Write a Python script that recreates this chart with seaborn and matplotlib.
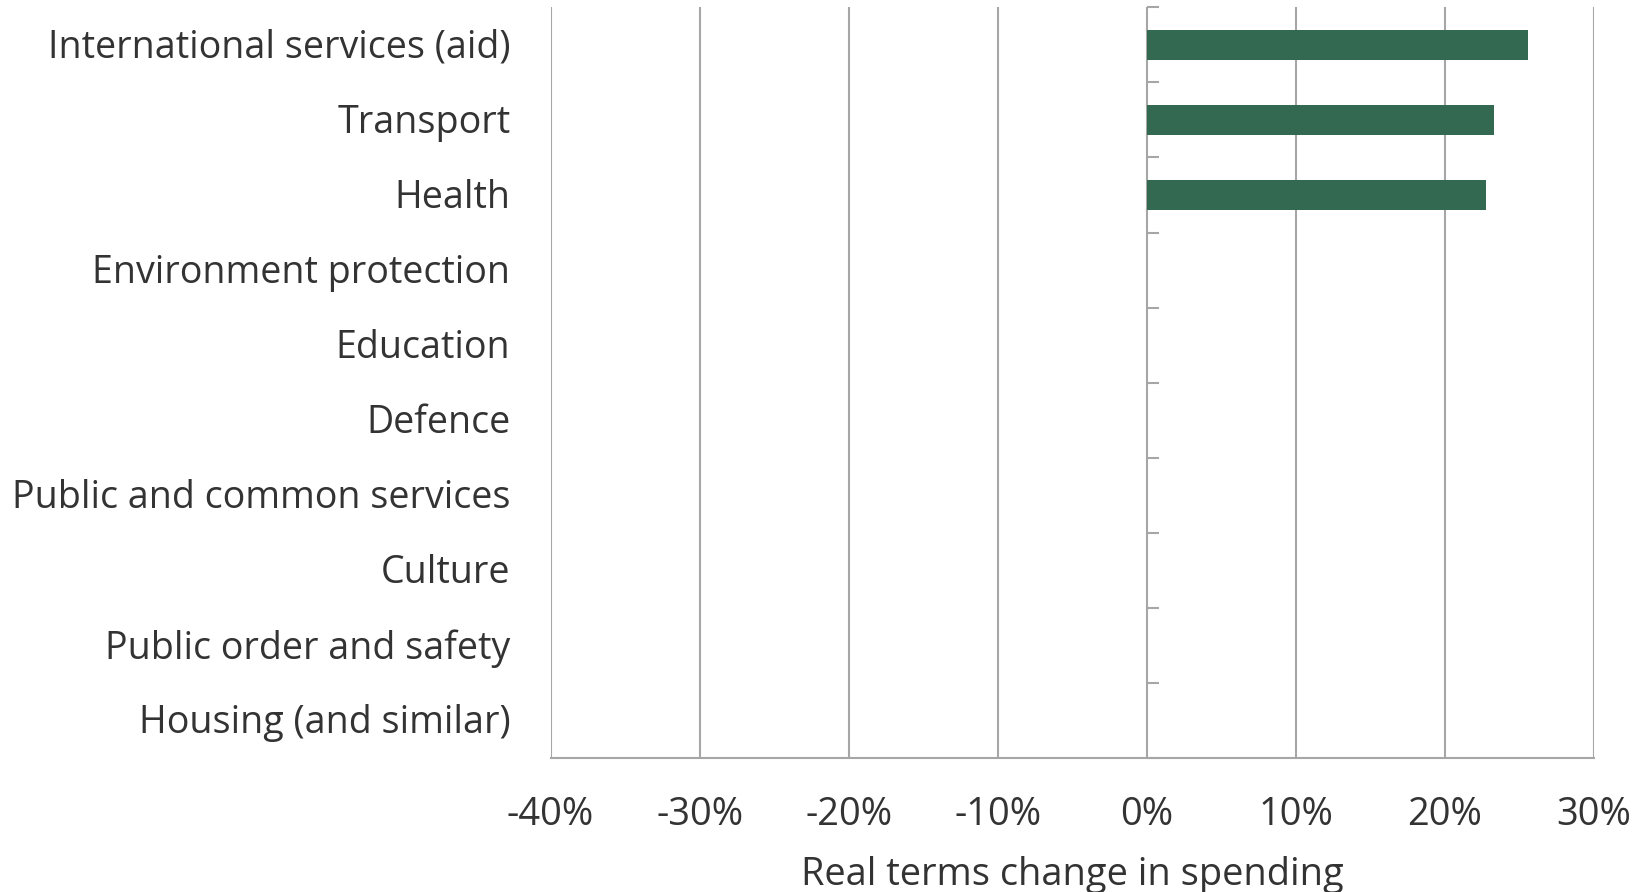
import numpy as np
import pandas as pd
import matplotlib
matplotlib.use("Agg")
import matplotlib.pyplot as plt
import matplotlib.transforms as mtransforms
import seaborn as sns
from matplotlib.ticker import FuncFormatter, FixedLocator

categories = [
    "International services (aid)",
    "Transport",
    "Health",
    "Environment protection",
    "Education",
    "Defence",
    "Public and common services",
    "Culture",
    "Public order and safety",
    "Housing (and similar)",
]
change_pct = [25.6, 23.3, 22.8, np.nan, np.nan, np.nan, np.nan, np.nan, np.nan, np.nan]
x_ticks = [-40, -30, -20, -10, 0, 10, 20, 30]

sns.set_theme(style="white")
plt.rcParams["font.family"] = ["Open Sans", "DejaVu Sans"]

GRID = "#a6a6a6"
TEXT = "#333333"
BAR = "#336950"
FS = 27.4

df = pd.DataFrame({"category": categories, "change": change_pct})

fig = plt.figure(figsize=(16.44, 8.92), dpi=100)
ax = fig.add_axes([0.3349, 0.1502, 0.9694 - 0.3349, 0.9918 - 0.1502])

sns.barplot(data=df.dropna(), x="change", y="category", order=categories,
            color=BAR, width=0.4, linewidth=0, saturation=1, ax=ax, errorbar=None)

ax.set_xlim(x_ticks[0], x_ticks[-1])
ax.set_ylim(len(categories) - 0.5, -0.5)
ax.xaxis.set_major_locator(FixedLocator(x_ticks))
ax.xaxis.set_major_formatter(FuncFormatter(lambda v, p: f"{v:.0f}%"))
ax.grid(axis="x", color=GRID, linewidth=1.5)
ax.set_axisbelow(True)

for s in ["top", "right", "left"]:
    ax.spines[s].set_visible(False)
ax.spines["bottom"].set_color(GRID)
ax.spines["bottom"].set_linewidth(1.5)

ax.tick_params(axis="x", colors=GRID, length=7.5, width=1.5, labelcolor=TEXT,
               labelsize=FS, pad=20)
ax.tick_params(axis="y", length=0, labelcolor=TEXT, labelsize=27.1, pad=29)
lift = mtransforms.ScaledTranslation(0, 1.2 / 72, fig.dpi_scale_trans)
for lbl in ax.get_yticklabels():
    lbl.set_va("center_baseline")
    lbl.set_transform(lbl.get_transform() + lift)
ax.set_xlabel("Real terms change in spending", fontsize=FS, color=TEXT, labelpad=16)
ax.set_ylabel("")

# Category axis drawn at the zero line, with ticks between categories
zero_pos = (0 - x_ticks[0]) / (x_ticks[-1] - x_ticks[0])
sec = ax.secondary_yaxis(zero_pos)
sec.set_yticks(np.arange(len(categories) + 1) - 0.5)
sec.set_yticklabels([])
sec.tick_params(axis="y", colors=GRID, length=8.5, width=1.5, direction="out")
sec.spines["left"].set_color(GRID)
sec.spines["left"].set_linewidth(1.5)
for s in ["top", "right", "bottom"]:
    sec.spines[s].set_visible(False)

fig.savefig("out.png", dpi=100)
